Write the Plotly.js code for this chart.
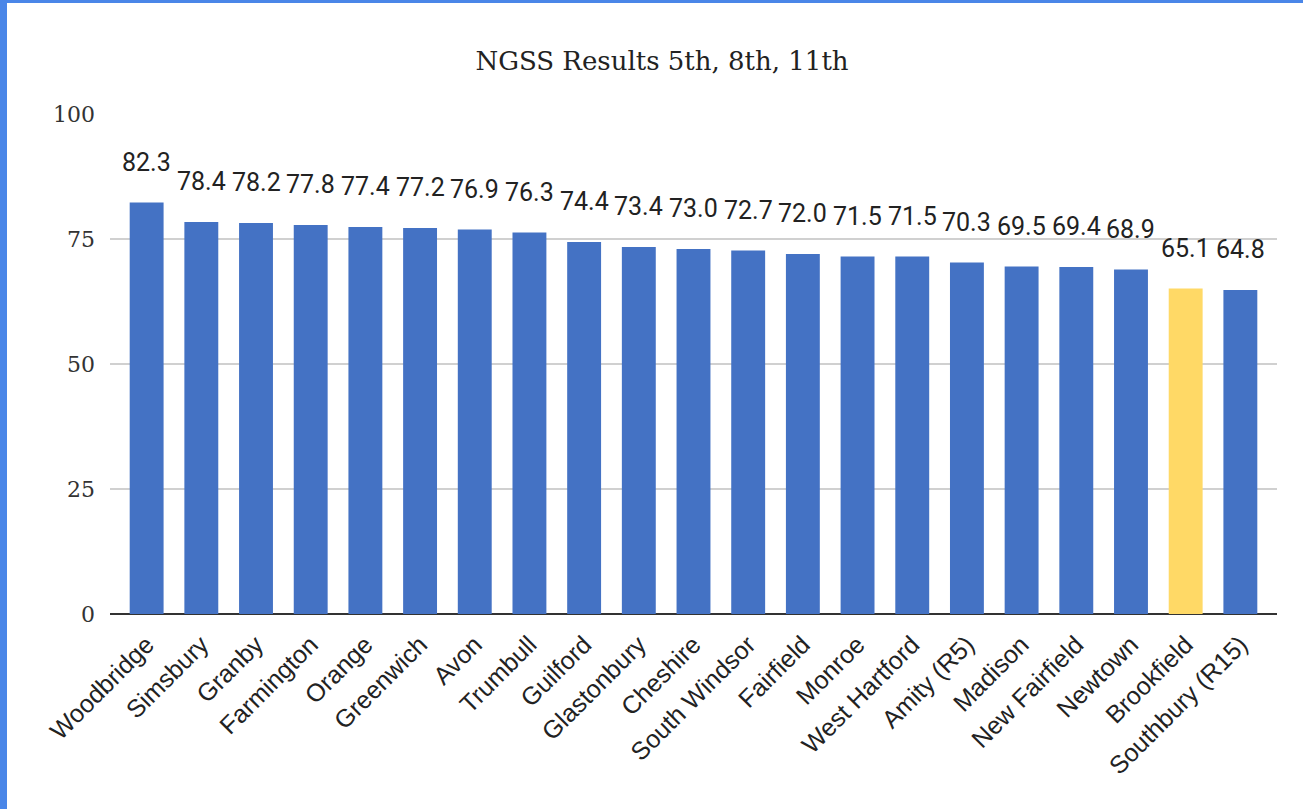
<!DOCTYPE html>
<html>
<head>
<meta charset="utf-8">
<script src="https://cdn.plot.ly/plotly-3.0.1.min.js"></script>
<style>
  html, body { margin: 0; padding: 0; background: #ffffff; overflow: hidden; }
  #chart { position: absolute; left: 0; top: 0; width: 1303px; height: 809px; }
  #bl { position: absolute; left: 0; top: 0; width: 7px; height: 809px; background: #4a86e8; }
  #bt { position: absolute; left: 0; top: 0; width: 1303px; height: 3px; background: #4a86e8; }
</style>
</head>
<body>
<div id="chart"></div>
<div id="bl"></div>
<div id="bt"></div>
<script>
const titleText = "NGSS Results 5th, 8th, 11th";
const towns = ["Woodbridge", "Simsbury", "Granby", "Farmington", "Orange", "Greenwich", "Avon",
  "Trumbull", "Guilford", "Glastonbury", "Cheshire", "South Windsor", "Fairfield", "Monroe",
  "West Hartford", "Amity (R5)", "Madison", "New Fairfield", "Newtown", "Brookfield", "Southbury (R15)"];
const scores = [82.3, 78.4, 78.2, 77.8, 77.4, 77.2, 76.9, 76.3, 74.4, 73.4, 73.0, 72.7, 72.0, 71.5,
  71.5, 70.3, 69.5, 69.4, 68.9, 65.1, 64.8];
const highlightTown = "Brookfield";
const yTickVals = [0, 25, 50, 75, 100];
const yTickText = ["0", "25", "50", "75", "100"];

const BLUE = "#4472c4";
const YELLOW = "#ffd966";
const colors = towns.map(t => t === highlightTown ? YELLOW : BLUE);

const trace = {
  type: "bar",
  x: towns,
  y: scores,
  marker: { color: colors, line: { width: 0 } },
  hoverinfo: "x+y"
};

const annotations = towns.map((t, i) => ({
  x: t, y: scores[i], xref: "x", yref: "y",
  text: scores[i].toFixed(1),
  showarrow: false, yanchor: "bottom", xanchor: "center",
  yshift: 24,
  font: { family: "Roboto, 'Liberation Sans', sans-serif", size: 25, color: "#222222" }
}));

const layout = {
  width: 1303, height: 809,
  margin: { l: 110, r: 26, t: 114, b: 195, pad: 0 },
  paper_bgcolor: "rgba(0,0,0,0)",
  plot_bgcolor: "#ffffff",
  showlegend: false,
  bargap: 0.38,
  title: {
    text: titleText,
    x: 662 / 1303, xref: "container", xanchor: "center",
    y: 1 - 61 / 809, yref: "container", yanchor: "middle",
    font: { family: "'DejaVu Serif', Georgia, serif", size: 26, color: "#222222" }
  },
  xaxis: {
    type: "category",
    range: [-0.67, 20.67],
    tickangle: -45,
    tickfont: { family: "'Liberation Sans', Arial, sans-serif", size: 25, color: "#222222" },
    showgrid: false,
    ticks: "",
    showline: false,
    zeroline: false,
    ticklabelstandoff: 10,
    fixedrange: true
  },
  yaxis: {
    range: [0, 100],
    tickvals: yTickVals,
    ticktext: yTickText,
    tickfont: { family: "'DejaVu Serif', Georgia, serif", size: 22, color: "#333333" },
    showgrid: true,
    gridcolor: "#d0d0d0",
    gridwidth: 2,
    zeroline: true,
    zerolinecolor: "#333333",
    zerolinewidth: 2,
    ticks: "",
    ticklabelstandoff: 14,
    fixedrange: true
  },
  annotations: annotations
};

Plotly.newPlot("chart", [trace], layout, { displayModeBar: false, staticPlot: true });
</script>
</body>
</html>
